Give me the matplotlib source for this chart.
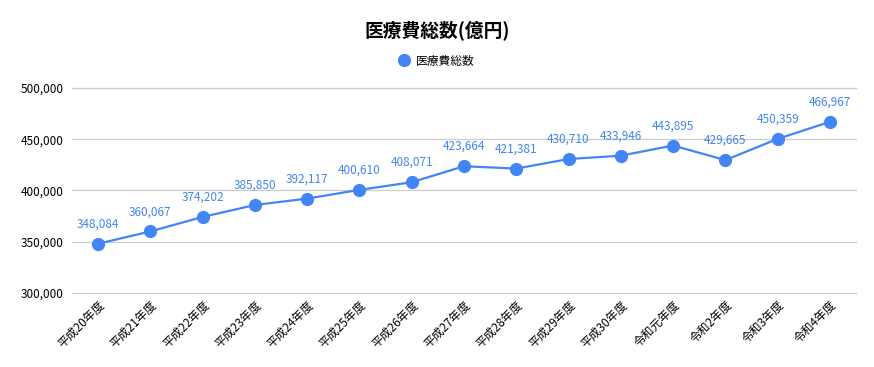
import matplotlib
matplotlib.use("Agg")
import matplotlib.pyplot as plt
from matplotlib.ticker import FuncFormatter

plt.rcParams['font.family'] = ['Noto Sans CJK JP', 'DejaVu Sans']

years = ["平成20年度", "平成21年度", "平成22年度", "平成23年度", "平成24年度",
         "平成25年度", "平成26年度", "平成27年度", "平成28年度", "平成29年度",
         "平成30年度", "令和元年度", "令和2年度", "令和3年度", "令和4年度"]
totals = [348084, 360067, 374202, 385850, 392117, 400610, 408071, 423664,
          421381, 430710, 433946, 443895, 429665, 450359, 466967]

blue = "#4285F4"

fig = plt.figure(figsize=(8.74, 3.67), dpi=100)
ax = fig.add_axes([72 / 874, 1 - 293 / 367, 784 / 874, 205 / 367])

x = list(range(len(years)))
ax.plot(x, totals, color=blue, linewidth=1.6, marker="o", markersize=8.5,
        label="医療費総数", clip_on=False, zorder=3)

for xi, v in zip(x, totals):
    ax.annotate(f"{v:,}", (xi, v), xytext=(0, 9.5), textcoords="offset points",
                ha="center", va="bottom", fontsize=8.5, color=blue)

ax.set_xlim(-0.5, len(years) - 0.5)
ax.set_ylim(300000, 500000)
ax.set_yticks([300000, 350000, 400000, 450000, 500000])
ax.yaxis.set_major_formatter(FuncFormatter(lambda v, p: f"{int(v):,}"))
ax.set_xticks(x)
ax.set_xticklabels(years, rotation=45, ha="right", rotation_mode="anchor",
                   fontsize=8.5)
ax.tick_params(axis="y", labelsize=8.5, length=0, pad=6)
ax.tick_params(axis="x", length=0, pad=4)
ax.grid(axis="y", color="#cccccc", linewidth=0.9)
for gl in ax.get_ygridlines():
    gl.set_clip_on(False)
ax.set_axisbelow(True)
for s in ax.spines.values():
    s.set_visible(False)

fig.text(0.5, 1 - 30 / 367, "医療費総数(億円)", ha="center", va="center",
         fontsize=13.5, fontweight="bold")
fig.legend(loc="center", bbox_to_anchor=(0.5, 1 - 61 / 367), frameon=False,
           fontsize=8.5, handlelength=0.8, handletextpad=0.6)
leg = fig.legends[0]
for h in leg.legend_handles:
    h.set_linestyle("none")

fig.savefig("out.png", dpi=100)
